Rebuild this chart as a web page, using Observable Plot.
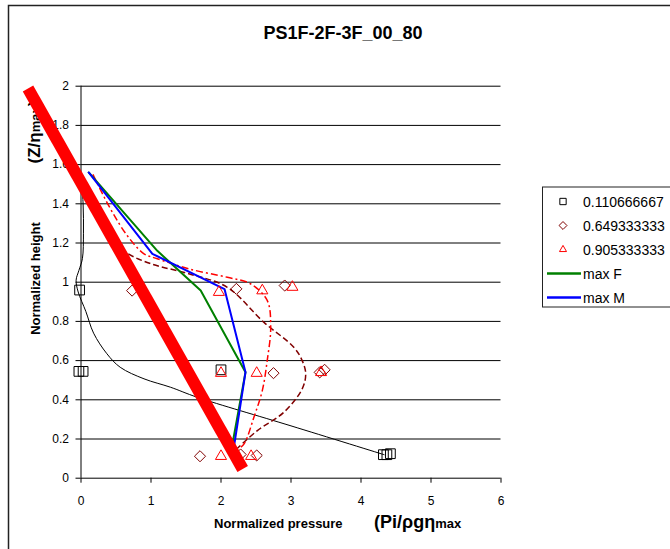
<!DOCTYPE html>
<html><head><meta charset="utf-8">
<script src="https://cdn.jsdelivr.net/npm/d3@7"></script>
<script src="https://cdn.jsdelivr.net/npm/@observablehq/plot@0.6"></script>
<style>html,body{margin:0;padding:0;background:#fff;} svg{display:block}</style>
</head><body><div id="chart"></div>
<script>
// ---- data ----
const title = "PS1F-2F-3F_00_80";
const seriesNames = ["0.110666667", "0.649333333", "0.905333333", "max F", "max M"];
const xTicks = [0, 1, 2, 3, 4, 5, 6];
const yTicks = [0, 0.2, 0.4, 0.6, 0.8, 1, 1.2, 1.4, 1.6, 1.8, 2];

// markers [pressure, height]
const squares = [[-0.02, 0.96], [-0.03, 0.545], [0.03, 0.545], [2.0, 0.553], [4.32, 0.12], [4.37, 0.12], [4.42, 0.125]];
const diamonds = [[0.73, 0.957], [2.22, 0.966], [2.91, 0.983], [2.75, 0.536], [3.41, 0.54], [3.48, 0.553], [1.70, 0.112], [2.28, 0.121], [2.51, 0.116]];
const triangles = [[1.97, 0.949], [2.59, 0.957], [3.02, 0.975], [2.0, 0.536], [2.51, 0.536], [3.43, 0.54], [2.0, 0.112], [2.43, 0.112]];

// smoothed curves
const curve1 = [[0.0, 1.56], [0.03, 1.4], [0.035, 1.25], [0.02, 1.12], [-0.03, 1.06], [-0.07, 1.01], [-0.04, 0.95], [0.07, 0.85], [0.18, 0.74], [0.37, 0.635], [0.56, 0.566], [0.9, 0.507], [1.28, 0.464], [1.66, 0.413], [3.0, 0.267], [4.33, 0.12]];
const curve2 = [[0.5, 1.21], [0.64, 1.153], [1.0, 1.094], [1.54, 1.043], [2.09, 0.974], [2.61, 0.796], [3.04, 0.668], [3.16, 0.60], [3.21, 0.533], [3.16, 0.456], [2.9, 0.337], [2.52, 0.243], [2.25, 0.158], [2.2, 0.14]];
const curve3 = [[0.17, 1.55], [0.42, 1.375], [0.66, 1.238], [0.9, 1.145], [1.09, 1.12], [1.54, 1.068], [2.09, 1.025], [2.42, 0.992], [2.66, 0.907], [2.71, 0.77], [2.66, 0.60], [2.59, 0.447], [2.47, 0.311], [2.33, 0.175], [2.25, 0.15]];
const maxF = [[0.11, 1.56], [1.09, 1.16], [1.71, 0.958], [2.35, 0.541], [2.16, 0.167]];
const maxM = [[0.11, 1.56], [1.02, 1.145], [2.05, 0.965], [2.35, 0.541], [2.19, 0.172]];
const redBand = [[-0.757, 1.988], [2.31, 0.047]];

// ---- chart ----
const X = d => d[0], Y = d => d[1];
const chart = Plot.plot({
  width: 670, height: 549,
  marginLeft: 80.5, marginRight: 169.5, marginTop: 85.7, marginBottom: 71.3,
  style: {fontFamily: "'Liberation Sans', Arial, sans-serif", fontSize: "12px", background: "white", color: "black"},
  x: {domain: [0, 6], axis: null},
  y: {domain: [0, 2], axis: null},
  marks: [
    Plot.ruleY(yTicks, {stroke: "black", strokeWidth: 1}),
    Plot.ruleX([0], {stroke: "black", strokeWidth: 1}),
    Plot.axisY({ticks: yTicks, tickSize: 5, tickPadding: 7, tickFormat: d => String(d), fontSize: 12, anchor: "left"}),
    Plot.axisX({ticks: xTicks, tickSize: 5, tickPadding: 13, tickFormat: d => String(d), fontSize: 12, anchor: "bottom"}),
    Plot.line(curve1, {x: X, y: Y, curve: "catmull-rom", stroke: "black", strokeWidth: 1}),
    Plot.line(curve2, {x: X, y: Y, curve: "catmull-rom", stroke: "#800000", strokeWidth: 1.5, strokeDasharray: "6,3", strokeLinecap: "butt"}),
    Plot.line(curve3, {x: X, y: Y, curve: "catmull-rom", stroke: "#FF0000", strokeWidth: 1.5, strokeDasharray: "7,3,2,3", strokeLinecap: "butt"}),
    Plot.line(maxF, {x: X, y: Y, stroke: "#008000", strokeWidth: 2}),
    Plot.line(maxM, {x: X, y: Y, stroke: "#0000FF", strokeWidth: 2}),
    Plot.dot(squares, {x: X, y: Y, symbol: "square", r: 5.5, stroke: "black", fill: "none", strokeWidth: 1}),
    Plot.dot(diamonds, {x: X, y: Y, symbol: "diamond2", r: 5, stroke: "#800000", fill: "none", strokeWidth: 1}),
    Plot.dot(triangles, {x: X, y: Y, symbol: "triangle2", r: 5.3, stroke: "#FF0000", fill: "none", strokeWidth: 1}),
    Plot.line(redBand, {x: X, y: Y, stroke: "#FF0000", strokeWidth: 12, strokeLinecap: "butt"})
  ]
});
document.getElementById("chart").appendChild(chart);

// ---- decorations: frame, title, axis titles, legend ----
const svg = d3.select(chart);
const font = "'Liberation Sans', Arial, sans-serif";
// labels go beneath the marks (the red band covers part of them)
const under = svg.insert("g", "g").attr("font-family", font).attr("font-weight", "bold").attr("fill", "black");
under.append("rect").attr("x", 8.5).attr("y", 5.5).attr("width", 700).attr("height", 600)
  .attr("fill", "none").attr("stroke", "#222").attr("stroke-width", 1.5);
under.append("text").attr("x", 343).attr("y", 39).attr("text-anchor", "middle").attr("font-size", 18).text(title);
under.append("text").attr("transform", "translate(39.5,278.5) rotate(-90)").attr("text-anchor", "middle")
  .attr("font-size", 13).text("Normalized height");
const zl = under.append("text").attr("transform", "translate(39.5,132) rotate(-90)").attr("text-anchor", "middle");
zl.append("tspan").attr("font-size", 17).text("(Z/η");
zl.append("tspan").attr("font-size", 13).text("max");
zl.append("tspan").attr("font-size", 17).text(")");
under.append("text").attr("x", 214).attr("y", 528).attr("text-anchor", "start").attr("font-size", 13).text("Normalized pressure");
const pl = under.append("text").attr("x", 374).attr("y", 528).attr("text-anchor", "start");
pl.append("tspan").attr("font-size", 18).text("(Pi/ρgη");
pl.append("tspan").attr("font-size", 13).text("max");

// legend
const lg = svg.append("g").attr("font-family", font).attr("font-size", 14).attr("fill", "black").attr("text-anchor", "start");
lg.append("rect").attr("x", 542.5).attr("y", 187).attr("width", 140).attr("height", 120)
  .attr("fill", "white").attr("stroke", "#222").attr("stroke-width", 1);
const legendStyles = [
  {type: "symbol", sym: d3.symbolSquare, size: 40, color: "black"},
  {type: "symbol", sym: d3.symbolDiamond2, size: 40, color: "#800000"},
  {type: "symbol", sym: d3.symbolTriangle2, size: 36, color: "#FF0000"},
  {type: "line", color: "#008000"},
  {type: "line", color: "#0000FF"}
];
seriesNames.forEach((name, i) => {
  const cy = 201.5 + 24 * i;
  const s = legendStyles[i];
  if (s.type === "symbol") {
    lg.append("path").attr("d", d3.symbol(s.sym, s.size)()).attr("transform", `translate(563,${cy})`)
      .attr("fill", "none").attr("stroke", s.color).attr("stroke-width", 1);
  } else {
    lg.append("line").attr("x1", 547).attr("x2", 581).attr("y1", cy).attr("y2", cy)
      .attr("stroke", s.color).attr("stroke-width", 2.5);
  }
  lg.append("text").attr("x", 583).attr("y", cy + 5).text(name);
});
</script>
</body></html>
